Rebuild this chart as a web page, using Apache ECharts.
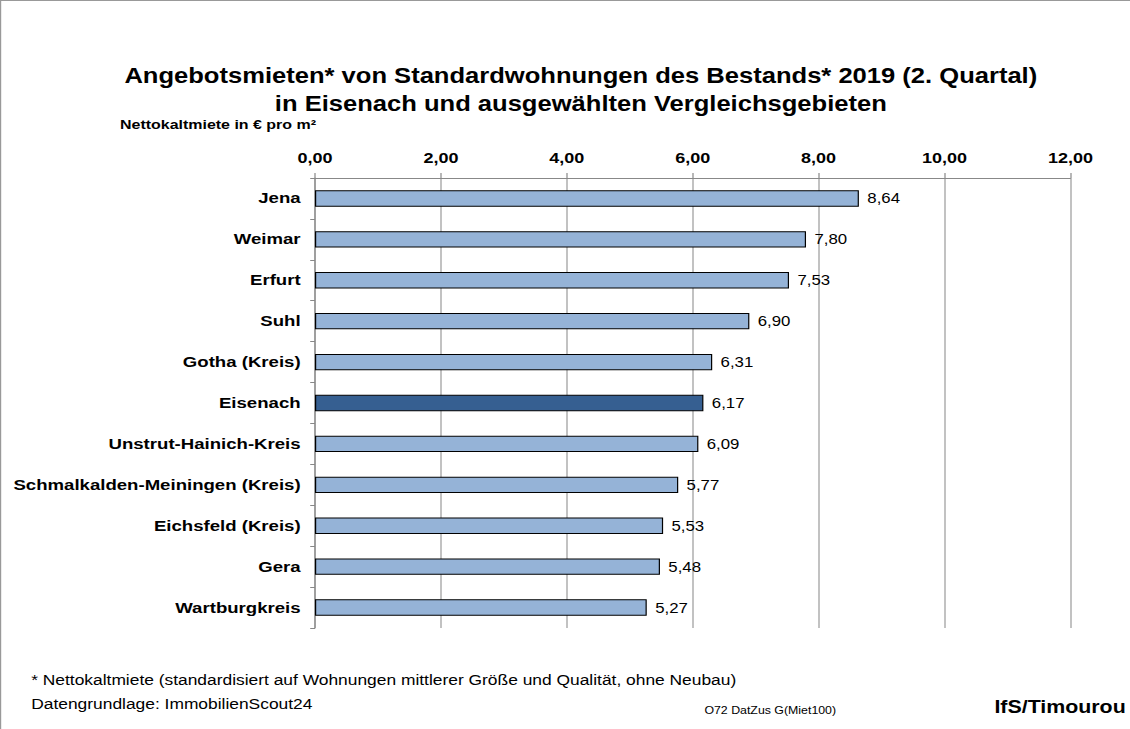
<!DOCTYPE html>
<html><head><meta charset="utf-8">
<script src="https://cdn.jsdelivr.net/npm/echarts@6/dist/echarts.min.js"></script>
<style>
html,body{margin:0;padding:0;background:#fff;overflow:hidden;width:1130px;height:729px}
#c{width:941.67px;height:729px;transform:scaleX(1.2);transform-origin:0 0}
</style>
</head><body><div id="c"></div>
<script>
const categories = ["Jena","Weimar","Erfurt","Suhl","Gotha (Kreis)","Eisenach","Unstrut-Hainich-Kreis","Schmalkalden-Meiningen (Kreis)","Eichsfeld (Kreis)","Gera","Wartburgkreis"];
const values = [8.64,7.80,7.53,6.90,6.31,6.17,6.09,5.77,5.53,5.48,5.27];
const highlight = "Eisenach";
const FONT = 'Liberation Sans, Arial, sans-serif';
const chart = echarts.init(document.getElementById('c'), null, {renderer:'svg'});
const fmt = v => v.toFixed(2).replace('.', ',');
chart.setOption({
  animation:false,
  textStyle:{fontFamily:FONT},
  title:{
    text:'Angebotsmieten* von Standardwohnungen des Bestands* 2019 (2. Quartal)\nin Eisenach und ausgewählten Vergleichsgebieten',
    left:479, top:57, textAlign:'center',
    textStyle:{fontSize:21.3,fontWeight:'bold',color:'#000',lineHeight:28,fontFamily:FONT}
  },
  graphic:[
    {type:'rect',shape:{x:0.5,y:0.5,width:1200,height:800},style:{fill:'none',stroke:'#999',lineWidth:1}},
    {type:'text',left:100,top:118,style:{text:'Nettokaltmiete in € pro m²',font:'bold 13.3px '+FONT,fill:'#000'}},
    {type:'text',left:26,top:673,style:{text:'* Nettokaltmiete (standardisiert auf Wohnungen mittlerer Größe und Qualität, ohne Neubau)',font:'14.5px '+FONT,fill:'#000'}},
    {type:'text',left:26,top:697,style:{text:'Datengrundlage: ImmobilienScout24',font:'14.5px '+FONT,fill:'#000'}},
    {type:'text',left:587,top:705,style:{text:'O72 DatZus G(Miet100)',font:'10.3px '+FONT,fill:'#000'}},
    {type:'text',right:4,top:698,style:{text:'IfS/Timourou',font:'bold 17.8px '+FONT,fill:'#000'}}
  ],
  grid:{left:262.5,right:50,top:178,bottom:101,containLabel:false},
  xAxis:{
    type:'value',position:'top',min:0,max:12,interval:2,
    axisLine:{show:true,lineStyle:{color:'#888',width:1}},
    axisTick:{show:true,length:5,lineStyle:{color:'#888'}},
    axisLabel:{formatter:v=>fmt(v),fontSize:15,fontWeight:'bold',color:'#000',margin:12},
    splitLine:{show:true,lineStyle:{color:'#999',width:1}}
  },
  yAxis:{
    type:'category',inverse:true,data:categories,
    axisLine:{show:true,lineStyle:{color:'#888',width:1}},
    axisTick:{show:true,length:4,inside:false,lineStyle:{color:'#888'}},
    axisLabel:{fontSize:15.5,fontWeight:'bold',color:'#000',margin:12}
  },
  series:[{
    type:'bar',barWidth:'40%',
    data:values.map((v,i)=>({value:v,itemStyle:{color:categories[i]===highlight?'#365F91':'#95B3D7'}})),
    itemStyle:{borderColor:'#000',borderWidth:1},
    label:{show:true,position:'right',distance:7,formatter:p=>fmt(p.value),fontSize:14,color:'#000'}
  }]
});
</script></body></html>
